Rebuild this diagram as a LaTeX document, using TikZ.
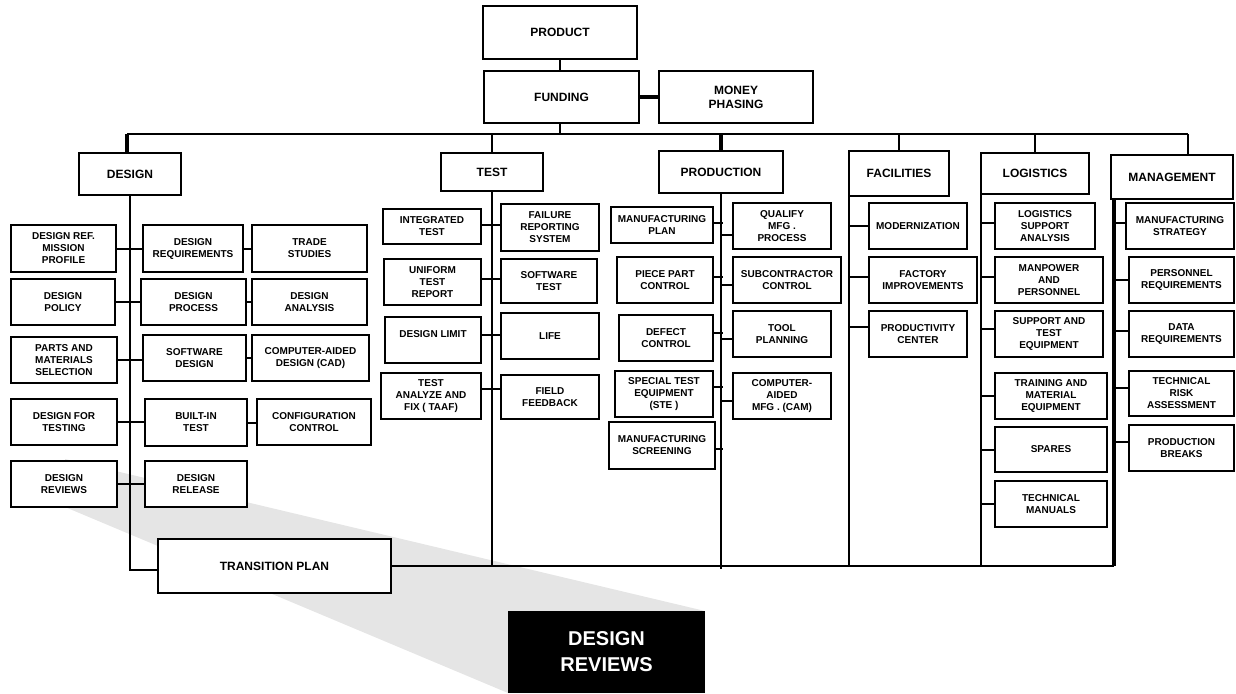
\documentclass[tikz,border=0pt]{standalone}
\usepackage{fontspec}
\setmainfont{Liberation Sans}
\tikzset{
  box/.style={draw, line width=2pt, fill=white, inner sep=0pt, outer sep=0pt, align=center,
    font=\bfseries\fontsize{10}{12}\selectfont},
  cat/.style={box, font=\bfseries\fontsize{12}{14}\selectfont},
  ln/.style={line width=2pt},
  thk/.style={line width=4pt},
  mthk/.style={line width=3.5pt},
}
\newcommand\bx[7][box]{\node[#1, minimum width={#5-#3}, minimum height={#6-#4}] (#2) at ({(#3+#5)/2},{(#4+#6)/2}) {#7};}
\begin{document}
\begin{tikzpicture}[x=1pt,y=-1pt]
\useasboundingbox (0,0) rectangle (1236,693);
% callout wedge
\fill[black!10] (65,459) -- (705,611) -- (705,693) -- (508,693) -- (65,507) -- cycle;
\node[fill=black, text=white, inner sep=0pt, minimum width=197, minimum height=82, align=center,
  font=\bfseries\fontsize{20}{26}\selectfont] (bigdr) at (606.5,652) {DESIGN\\REVIEWS};

% top
\bx[cat]{product}{483}{6}{637}{59}{PRODUCT}
\bx[cat]{funding}{484}{71}{639}{123}{FUNDING}
\bx[cat]{money}{659}{71}{813}{123}{MONEY\\PHASING}
% categories
\bx[cat]{design}{79}{153}{181}{195}{DESIGN}
\bx[cat]{test}{441}{153}{543}{191}{TEST}
\bx[cat]{prod}{659}{151}{783}{193}{PRODUCTION}
\bx[cat]{fac}{849}{151}{949}{196}{FACILITIES}
\bx[cat]{logi}{981}{153}{1089}{194}{LOGISTICS}
\bx[cat]{mgmt}{1111}{155}{1233}{199}{MANAGEMENT}
\bx[cat]{tp}{158}{539}{391}{593}{TRANSITION PLAN}

% design
\bx{drmp}{11}{225}{116}{272}{DESIGN REF.\\MISSION\\PROFILE}
\bx{dreq}{143}{225}{243}{272}{DESIGN\\REQUIREMENTS}
\bx{ts}{252}{225}{367}{272}{TRADE\\STUDIES}
\bx{dpol}{11}{279}{115}{325}{DESIGN\\POLICY}
\bx{dproc}{141}{279}{246}{325}{DESIGN\\PROCESS}
\bx{dan}{252}{279}{367}{325}{DESIGN\\ANALYSIS}
\bx{pms}{11}{337}{117}{383}{PARTS AND\\MATERIALS\\SELECTION}
\bx{swd}{143}{335}{246}{381}{SOFTWARE\\DESIGN}
\bx{cad}{252}{335}{369}{381}{COMPUTER-AIDED\\DESIGN (CAD)}
\bx{dft}{11}{399}{117}{445}{DESIGN FOR\\TESTING}
\bx{bit}{145}{399}{247}{446}{BUILT-IN\\TEST}
\bx{cc}{257}{399}{371}{445}{CONFIGURATION\\CONTROL}
\bx{drev}{11}{461}{117}{507}{DESIGN\\REVIEWS}
\bx{drel}{145}{461}{247}{507}{DESIGN\\RELEASE}

% test
\bx{it}{383}{209}{481}{244}{INTEGRATED\\TEST}
\bx{frs}{501}{204}{599}{251}{FAILURE\\REPORTING\\SYSTEM}
\bx{utr}{384}{259}{481}{305}{UNIFORM\\TEST\\REPORT}
\bx{swt}{501}{259}{597}{303}{SOFTWARE\\TEST}
\bx{dl}{385}{317}{481}{363}{DESIGN LIMIT\\\mbox{}}
\bx{life}{501}{313}{599}{359}{LIFE}
\bx{taaf}{381}{373}{481}{419}{TEST\\ANALYZE AND\\FIX ( TAAF)}
\bx{ff}{501}{375}{599}{419}{FIELD\\FEEDBACK}

% production
\bx{mp}{611}{207}{713}{243}{MANUFACTURING\\PLAN}
\bx{qmp}{733}{203}{831}{249}{QUALIFY\\MFG .\\PROCESS}
\bx{ppc}{617}{257}{713}{303}{PIECE PART\\CONTROL}
\bx{sc}{733}{257}{841}{303}{SUBCONTRACTOR\\CONTROL}
\bx{dc}{619}{315}{713}{361}{DEFECT\\CONTROL}
\bx{tool}{733}{311}{831}{357}{TOOL\\PLANNING}
\bx{ste}{615}{371}{713}{417}{SPECIAL TEST\\EQUIPMENT\\(STE )}
\bx{cam}{733}{373}{831}{419}{COMPUTER-\\AIDED\\MFG . (CAM)}
\bx{ms}{609}{422}{715}{469}{MANUFACTURING\\SCREENING}

% facilities
\bx{mod}{869}{203}{967}{249}{MODERNIZATION}
\bx{fi}{869}{257}{977}{303}{FACTORY\\IMPROVEMENTS}
\bx{pc}{869}{311}{967}{357}{PRODUCTIVITY\\CENTER}

% logistics
\bx{lsa}{995}{203}{1095}{249}{LOGISTICS\\SUPPORT\\ANALYSIS}
\bx{map}{995}{257}{1103}{303}{MANPOWER\\AND\\PERSONNEL}
\bx{ste2}{995}{311}{1103}{357}{SUPPORT AND\\TEST\\EQUIPMENT}
\bx{tme}{995}{373}{1107}{419}{TRAINING AND\\MATERIAL\\EQUIPMENT}
\bx{spares}{995}{427}{1107}{472}{SPARES}
\bx{tm}{995}{481}{1107}{527}{TECHNICAL\\MANUALS}

% management
\bx{mstr}{1126}{203}{1234}{249}{MANUFACTURING\\STRATEGY}
\bx{pr}{1129}{257}{1234}{303}{PERSONNEL\\REQUIREMENTS}
\bx{dreq2}{1129}{311}{1234}{357}{DATA\\REQUIREMENTS}
\bx{tra}{1129}{371}{1234}{416}{TECHNICAL\\RISK\\ASSESSMENT}
\bx{pb}{1129}{425}{1234}{471}{PRODUCTION\\BREAKS}

% top connectors
\coordinate (busL) at (127,134);
\coordinate (busR) at (1188,134);
\draw[ln] (busL) -- (busR);
\draw[ln] (product.south) -- (product.south |- funding.north);
\draw[ln] (product.south |- funding.south) -- (product.south |- busL);
\draw[thk] (funding.east) -- (money.west);
\draw[thk] (busL) -- (busL |- design.north);
\draw[ln] (test.north) -- (test.north |- busL);
\draw[thk] (prod.north) -- (prod.north |- busL);
\draw[ln] (fac.north) -- (fac.north |- busL);
\draw[ln] (logi.north) -- (logi.north |- busL);
\draw[ln] (busR) -- (busR |- mgmt.north);

% design tree
\draw[ln] (design.south) |- ([yshift=-4pt]tp.west);
\draw[ln] (drmp.east) -- (dreq.west);
\draw[ln] (dreq.east) -- (ts.west);
\draw[ln] (dpol.east) -- (dproc.west);
\draw[ln] (dproc.east) -- (dan.west);
\draw[ln] (pms.east) -- (pms.east -| swd.west);
\draw[ln] (swd.east) -- (cad.west);
\draw[ln] (dft.east) -- (dft.east -| bit.west);
\draw[ln] (bit.east) -- (bit.east -| cc.west);
\draw[ln] (drev.east) -- (drev.east -| drel.west);

% bottom bus and column verticals
\coordinate (mv) at ([xshift=3pt]mgmt.south west);
\draw[ln] (tp.east) -- (tp.east -| mv);
\draw[mthk] (mv) -- (mv |- tp.east);
\draw[ln] (test.south) -- (test.south |- tp.east);
\draw[ln] (prod.south) -- ([yshift=-3pt]prod.south |- tp.east);
\draw[ln] (fac.south west) -- (fac.south west |- tp.east);
\draw[ln] (logi.south west) -- (logi.south west |- tp.east);

% test stubs
\draw[ln] ([yshift=2pt]it.east) -- ++(20,0);
\draw[ln] ([yshift=3pt]utr.east) -- ++(20,0);
\draw[ln] ([yshift=5pt]dl.east) -- ++(20,0);
\draw[ln] ([yshift=7pt]taaf.east) -- ++(20,0);

% production stubs
\draw[ln] ([yshift=2pt]mp.east) -- ++(10,0);
\draw[ln] ([yshift=-9pt]qmp.west) -- ++(-11,0);
\draw[ln] ([yshift=3pt]ppc.east) -- ++(10,0);
\draw[ln] ([yshift=-5pt]sc.west) -- ++(-11,0);
\draw[ln] ([yshift=5pt]dc.east) -- ++(10,0);
\draw[ln] ([yshift=-5pt]tool.west) -- ++(-11,0);
\draw[ln] ([yshift=7pt]ste.east) -- ++(10,0);
\draw[ln] ([yshift=-5pt]cam.west) -- ++(-11,0);
\draw[ln] ([yshift=-3pt]ms.east) -- ++(8,0);

% facilities stubs
\draw[ln] (mod.west) -- ++(-19,0);
\draw[ln] ([yshift=3pt]fi.west) -- ++(-19,0);
\draw[ln] ([yshift=7pt]pc.west) -- ++(-19,0);

% logistics stubs
\draw[ln] ([yshift=3pt]lsa.west) -- ++(-13,0);
\draw[ln] ([yshift=3pt]map.west) -- ++(-13,0);
\draw[ln] ([yshift=5pt]ste2.west) -- ++(-13,0);
\draw[ln] (tme.west) -- ++(-13,0);
\draw[ln] (spares.west) -- ++(-13,0);
\draw[ln] (tm.west) -- ++(-13,0);

% management stubs
\draw[ln] ([yshift=3pt]mstr.west) -- ++(-12,0);
\draw[ln] (pr.west) -- ++(-15,0);
\draw[ln] ([yshift=3pt]dreq2.west) -- ++(-15,0);
\draw[ln] ([yshift=6pt]tra.west) -- ++(-15,0);
\draw[ln] ([yshift=6pt]pb.west) -- ++(-15,0);
\end{tikzpicture}
\end{document}
